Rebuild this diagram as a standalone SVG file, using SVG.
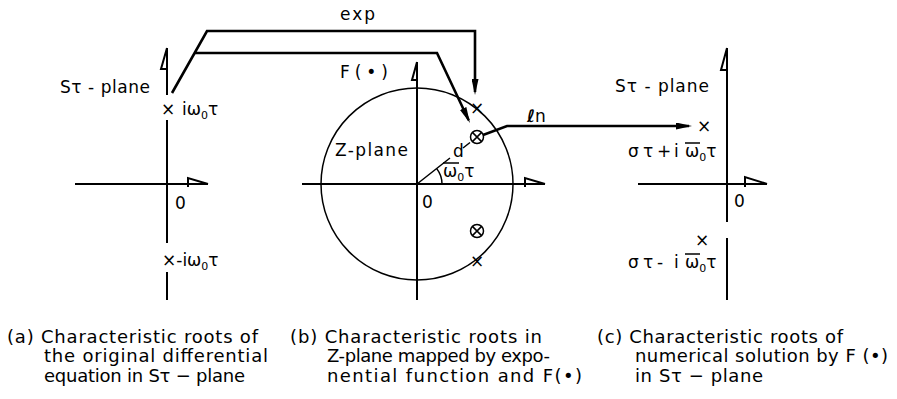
<svg xmlns="http://www.w3.org/2000/svg" width="897" height="399" viewBox="0 0 897 399">
<defs>
<marker id="ah" markerWidth="16" markerHeight="7" refX="13" refY="3.5" orient="auto" markerUnits="userSpaceOnUse"><path d="M0,0 L16,3.5 L0,7 Z" fill="#000"/></marker>
</defs>
<style>
.ax{stroke:#000;stroke-width:2;fill:none}
.thin{stroke:#000;stroke-width:1.5;fill:none}
.con{stroke:#000;stroke-width:2.6;fill:none;stroke-linejoin:miter}
text{font-family:"DejaVu Sans","Liberation Sans",sans-serif;fill:#000}
.lb{font-size:17px}
.cap{font-size:18px}
.sub{font-size:11px}
.mk{font-size:17px;text-anchor:middle}
</style>
<rect width="897" height="399" fill="#fff"/>

<g id="panel-a">
<path class="ax" d="M167,48 V95 M167,120 V243 M167,272 V300"/>
<path class="ax" d="M167,48 L161,69 H167"/>
<path class="ax" d="M75,184 H208 M188,187 V178 L208,184"/>
<text class="lb" x="60" y="93" textLength="90">Sτ - plane</text>
<text class="mk" x="168" y="115">×</text>
<text class="lb" x="182" y="115">iω<tspan class="sub" dy="4">0</tspan><tspan dy="-4">τ</tspan></text>
<text class="lb" x="175" y="209">0</text>
<text class="lb" x="162" y="266">×-iω<tspan class="sub" dy="4">0</tspan><tspan dy="-4">τ</tspan></text>
</g>

<g id="panel-b">
<circle cx="417" cy="184" r="96" class="thin"/>
<path class="ax" d="M417,62 V300"/>
<path class="ax" d="M417,62 L412,80 H417"/>
<path class="ax" d="M302,184 H545 M525,187 V178 L545,184"/>
<path class="thin" d="M442,184 A25,25 0 0 0 436.7,168.6"/>
<path class="thin" d="M417,184 L450,158 M463,148 L470,142.5"/>
<text class="mk" x="477" y="114">×</text>
<text class="mk" x="477" y="267">×</text>
<g class="thin">
<circle cx="477" cy="137" r="6.5"/><path d="M472.4,132.4 L481.6,141.6 M481.6,132.4 L472.4,141.6"/>
<circle cx="477" cy="231" r="6.5"/><path d="M472.4,226.4 L481.6,235.6 M481.6,226.4 L472.4,235.6"/>
</g>
<text class="lb" x="340" y="20" textLength="35">exp</text>
<text class="lb" x="340" y="78" textLength="48">F(•)</text>
<text class="lb" x="335" y="156" textLength="73">Z-plane</text>
<text class="lb" x="453" y="157">d</text>
<text class="lb" x="443" y="177">ω<tspan class="sub" dy="4">0</tspan><tspan dy="-4">τ</tspan></text>
<path class="thin" d="M443,163 H459"/>
<text class="lb" x="527" y="122" font-weight="bold" font-style="italic">ℓ<tspan font-weight="normal" font-style="normal">n</tspan></text>
<text class="lb" x="422" y="208">0</text>
</g>

<g id="panel-c">
<path class="ax" d="M727,48 V222 M727,238 V300"/>
<path class="ax" d="M727,48 L721,70 H727"/>
<path class="ax" d="M638,184 H767 M745,187 V177 L767,184"/>
<text class="lb" x="615" y="92" textLength="94">Sτ - plane</text>
<text class="mk" x="704" y="132">×</text>
<text class="lb" x="628 643 657 674 685" y="157">στ+iω<tspan class="sub" dy="4">0</tspan><tspan dy="-4">τ</tspan></text>
<path class="thin" d="M685,143 H700"/>
<text class="lb" x="734" y="207">0</text>
<text class="mk" x="702" y="246">×</text>
<text class="lb" x="628 643 657 674 685" y="268">στ-iω<tspan class="sub" dy="4">0</tspan><tspan dy="-4">τ</tspan></text>
<path class="thin" d="M685,254 H700"/>
</g>

<g id="connectors">
<path class="con" d="M172,93 L207,31 H475 V92" marker-end="url(#ah)"/>
<path class="con" d="M194.6,53 H437 L468.7,120.3" marker-end="url(#ah)"/>
<path class="con" d="M483,135 L507,126 H689" marker-end="url(#ah)"/>
</g>

<g id="captions">
<text class="cap" x="7" y="343" textLength="251">(a) Characteristic roots of</text>
<text class="cap" x="44" y="362" textLength="224">the original differential</text>
<text class="cap" x="44" y="382" textLength="201">equation in Sτ − plane</text>
<text class="cap" x="290" y="343" textLength="252">(b) Characteristic roots in</text>
<text class="cap" x="327" y="362" textLength="223">Z-plane mapped by expo-</text>
<text class="cap" x="327" y="382" textLength="255">nential function and F(•)</text>
<text class="cap" x="597" y="343" textLength="246">(c) Characteristic roots of</text>
<text class="cap" x="635" y="362" textLength="253">numerical solution by F (•)</text>
<text class="cap" x="635" y="382" textLength="128">in Sτ − plane</text>
</g>
</svg>
